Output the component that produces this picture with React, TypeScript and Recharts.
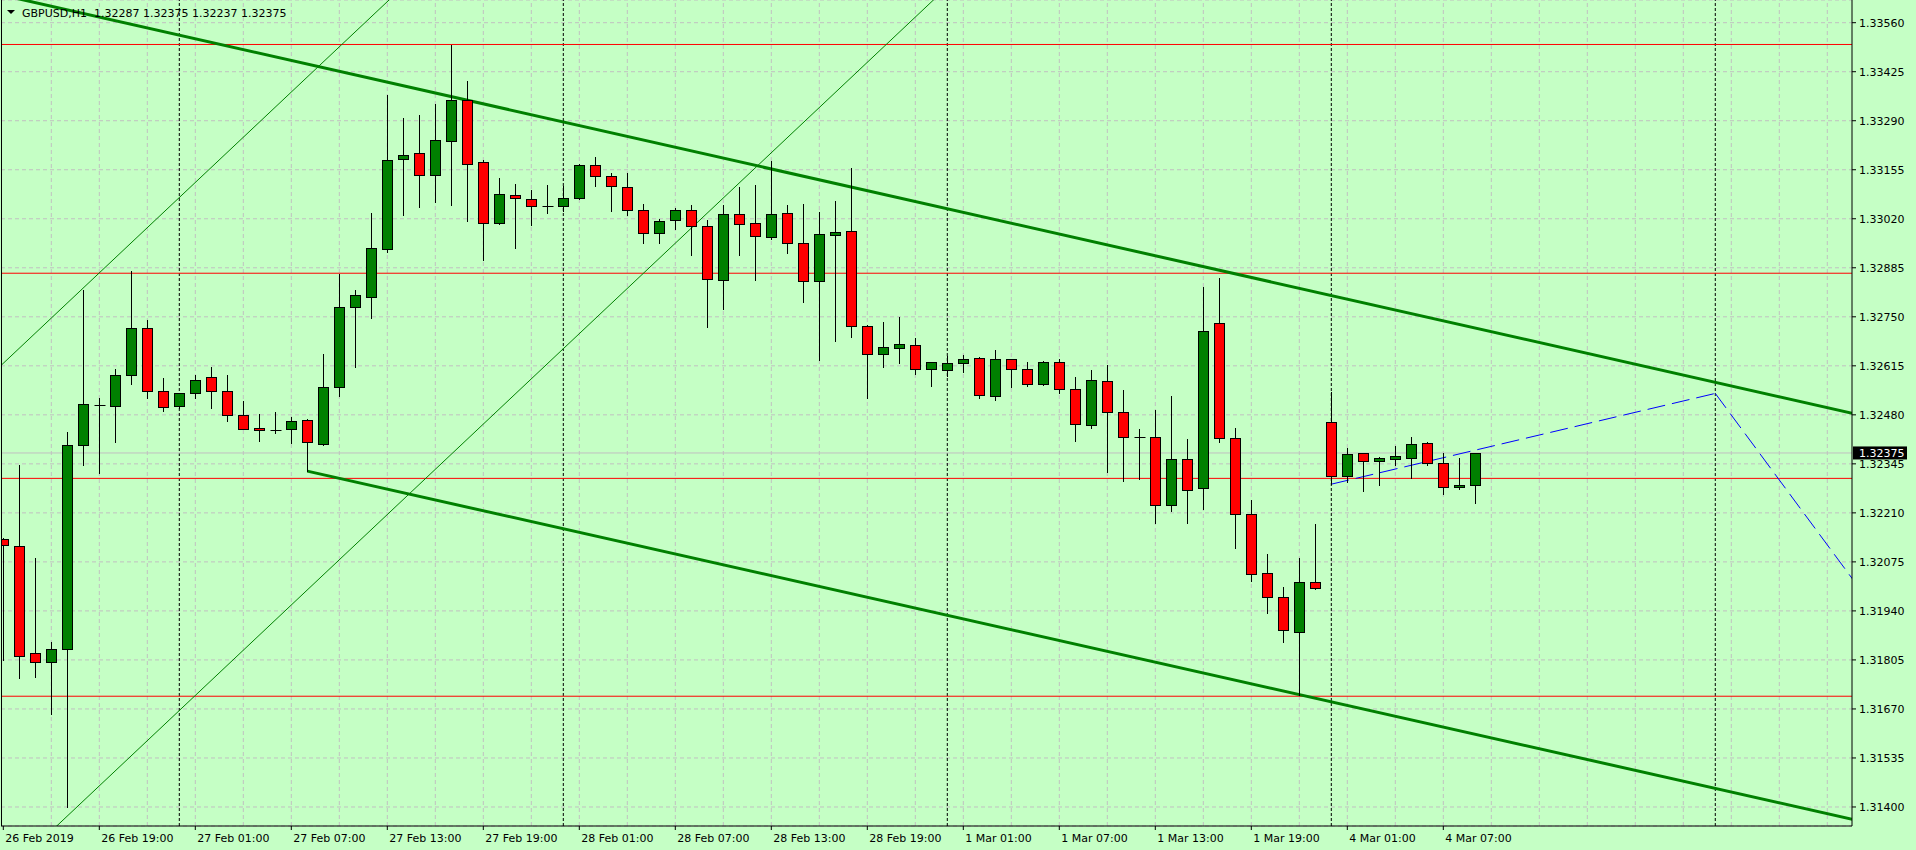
import React from 'react';
import { ComposedChart, Bar, XAxis, YAxis, CartesianGrid, ReferenceLine } from 'recharts';

const FONT = '"DejaVu Sans", Tahoma, sans-serif';
const BG = '#C5FFC5';

// ---- candle data (GBPUSD H1, 26 Feb 2019 13:00 .. 4 Mar 2019 09:00) ----
const opens = [
  1.32138, 1.3212, 1.31824, 1.31798, 1.31834, 1.32397, 1.32506, 1.32503, 1.32591, 1.32718,
  1.32547, 1.32503, 1.32539, 1.32583, 1.32547, 1.32479, 1.32443, 1.32439, 1.3244, 1.32465,
  1.32401, 1.32556, 1.32776, 1.32805, 1.32938, 1.33184, 1.332, 1.33141, 1.33235, 1.33346,
  1.33176, 1.33009, 1.33085, 1.33074, 1.33054, 1.33054, 1.33076, 1.33167, 1.33137, 1.33107,
  1.33043, 1.3298, 1.33016, 1.33043, 1.32999, 1.32852, 1.33032, 1.33008, 1.32969, 1.33035,
  1.32952, 1.32848, 1.32976, 1.32985, 1.32724, 1.32647, 1.32663, 1.32672, 1.32605, 1.32603,
  1.32622, 1.32636, 1.32531, 1.32633, 1.32605, 1.32564, 1.32625, 1.3255, 1.32451, 1.32572,
  1.32487, 1.3242, 1.32418, 1.32231, 1.32358, 1.32278, 1.32732, 1.32415, 1.32206, 1.32044,
  1.31978, 1.31881, 1.32019, 1.32459, 1.32312, 1.32374, 1.32352, 1.32359, 1.32362, 1.32402,
  1.32347, 1.3228, 1.32287,
];
const highs = [
  1.3214, 1.32341, 1.32086, 1.31854, 1.32434, 1.32824, 1.32525, 1.32605, 1.32876, 1.32741,
  1.32581, 1.3254, 1.32591, 1.32613, 1.32591, 1.32517, 1.32481, 1.32489, 1.32475, 1.32468,
  1.32647, 1.32869, 1.32824, 1.33035, 1.33361, 1.33297, 1.33306, 1.33336, 1.33499, 1.33399,
  1.33182, 1.33132, 1.33116, 1.33099, 1.33113, 1.3311, 1.3317, 1.3319, 1.33146, 1.33147,
  1.3306, 1.33019, 1.3305, 1.33057, 1.33017, 1.33058, 1.33108, 1.33113, 1.33179, 1.33057,
  1.33061, 1.33039, 1.33069, 1.33159, 1.32727, 1.32736, 1.32749, 1.32692, 1.32625, 1.32641,
  1.32644, 1.32638, 1.32658, 1.32635, 1.32625, 1.32628, 1.32633, 1.32584, 1.32603, 1.32616,
  1.32548, 1.3244, 1.32493, 1.32532, 1.32413, 1.32832, 1.32856, 1.32443, 1.32245, 1.32097,
  1.32005, 1.32085, 1.32179, 1.32542, 1.32389, 1.32376, 1.32363, 1.32394, 1.32418, 1.32404,
  1.32376, 1.32361, 1.32375,
];
const lows = [
  1.31805, 1.31754, 1.31759, 1.31657, 1.314, 1.32341, 1.32321, 1.32404, 1.32565, 1.32525,
  1.32491, 1.32499, 1.32527, 1.325, 1.32462, 1.32441, 1.32407, 1.32431, 1.32402, 1.32325,
  1.32397, 1.32531, 1.32613, 1.32747, 1.32929, 1.3303, 1.33053, 1.33066, 1.33058, 1.33015,
  1.32907, 1.33005, 1.3294, 1.33003, 1.33037, 1.33042, 1.33074, 1.3311, 1.33042, 1.33031,
  1.32954, 1.32954, 1.32993, 1.32921, 1.32723, 1.32772, 1.32921, 1.32851, 1.32963, 1.32927,
  1.32792, 1.32631, 1.32684, 1.32695, 1.32526, 1.32613, 1.32624, 1.32593, 1.3256, 1.32587,
  1.32599, 1.32527, 1.3252, 1.32556, 1.3256, 1.32562, 1.32541, 1.32409, 1.32443, 1.32323,
  1.32299, 1.32303, 1.32183, 1.32214, 1.32183, 1.32222, 1.32404, 1.32112, 1.32023, 1.31933,
  1.31855, 1.31708, 1.32, 1.32289, 1.32296, 1.32271, 1.32288, 1.32342, 1.32305, 1.32341,
  1.32262, 1.32277, 1.32237,
];
const closes = [
  1.32122, 1.31815, 1.31798, 1.31834, 1.32396, 1.32509, 1.32506, 1.32591, 1.32718, 1.32547,
  1.32501, 1.32539, 1.32577, 1.32547, 1.32479, 1.32441, 1.32437, 1.32439, 1.32462, 1.32404,
  1.32556, 1.32776, 1.32809, 1.32939, 1.33181, 1.33195, 1.33141, 1.33236, 1.33346, 1.33172,
  1.33009, 1.33087, 1.33076, 1.33054, 1.33054, 1.33076, 1.33167, 1.33137, 1.33109, 1.33043,
  1.3298, 1.33013, 1.33043, 1.32999, 1.32855, 1.33032, 1.33006, 1.32972, 1.33032, 1.32954,
  1.32848, 1.32977, 1.32983, 1.32726, 1.32647, 1.32666, 1.32674, 1.32605, 1.32625, 1.32622,
  1.32633, 1.32534, 1.32633, 1.32605, 1.32564, 1.32625, 1.3255, 1.32454, 1.32575, 1.32487,
  1.32418, 1.3242, 1.32231, 1.32358, 1.32272, 1.3271, 1.32415, 1.32206, 1.32041, 1.31978,
  1.31887, 1.32019, 1.32002, 1.32312, 1.32371, 1.32352, 1.3236, 1.32366, 1.32399, 1.32347,
  1.3228, 1.32287, 1.32375,
];

// ---- axes ----
const priceTicks = [
  1.314, 1.31535, 1.3167, 1.31805, 1.3194, 1.32075, 1.3221, 1.32345, 1.3248,
  1.32615, 1.3275, 1.32885, 1.3302, 1.33155, 1.3329, 1.33425, 1.3356,
];
const timeTickIdx = [0, 6, 12, 18, 24, 30, 36, 42, 48, 54, 60, 66, 72, 78, 84, 90];
const timeTickLabels = [
  '26 Feb 2019', '26 Feb 19:00', '27 Feb 01:00', '27 Feb 07:00', '27 Feb 13:00', '27 Feb 19:00',
  '28 Feb 01:00', '28 Feb 07:00', '28 Feb 13:00', '28 Feb 19:00', '1 Mar 01:00', '1 Mar 07:00',
  '1 Mar 13:00', '1 Mar 19:00', '4 Mar 01:00', '4 Mar 07:00',
];
const gridIdx = [
  3, 6, 9, 12, 15, 18, 21, 24, 27, 30, 33, 36, 39, 42, 45, 48, 51, 54, 57, 60, 63, 66, 69, 72,
  75, 78, 81, 84, 87, 90, 93, 96, 99, 102, 105, 108, 111, 114,
];
const separatorIdx = [11, 35, 59, 83, 107];
const X_DOMAIN: [number, number] = [-0.144, 115.544];
const Y_DOMAIN: [number, number] = [1.313476, 1.336225];

// ---- objects ----
const levels = [1.335, 1.3287, 1.32305, 1.31705];
const bidPrice = 1.32375;
const channelUpper = [{ x: -5, y: 1.33685 }, { x: 118, y: 1.3246 }];
const channelLower = [{ x: 19, y: 1.32325 }, { x: 118, y: 1.31342 }];
const thinLine1 = [{ x: -2, y: 1.32539 }, { x: 26, y: 1.33701 }];
const thinLine2 = [{ x: 0, y: 1.31209 }, { x: 60, y: 1.337 }];
const forecastUp = [{ x: 83, y: 1.32289 }, { x: 107, y: 1.32539 }];
const forecastDown = [{ x: 107, y: 1.32539 }, { x: 117, y: 1.31943 }];
const headerSymbol = 'GBPUSD,H1';
const headerOHLC = '1.32287 1.32375 1.32237 1.32375';

const bars = opens.map((o, i) => ({
  i,
  o,
  h: highs[i],
  l: lows[i],
  c: closes[i],
  range: [lows[i], highs[i]],
}));

const Candle = (props: any) => {
  const { x, y, width, height, payload } = props;
  if (x == null || y == null || !payload) return null;
  const { o, h, l, c } = payload;
  const top = Math.min(y, y + height);
  const bot = Math.max(y, y + height);
  const span = h - l;
  const toY = (v: number) => (span > 0 ? top + ((h - v) / span) * (bot - top) : top);
  const cx = Math.floor(x + width / 2) + 0.5;
  const yH = Math.round(toY(h));
  const yL = Math.round(toY(l));
  const bTop = Math.round(Math.min(toY(o), toY(c))) + 0.5;
  const bBot = Math.round(Math.max(toY(o), toY(c))) + 0.5;
  const up = c >= o;
  return (
    <g>
      <line x1={cx} x2={cx} y1={yH} y2={yL + 1} stroke="#000" strokeWidth={1} />
      {bBot - bTop < 1 ? (
        <line x1={cx - 5} x2={cx + 6} y1={bTop} y2={bTop} stroke="#000" strokeWidth={1} />
      ) : (
        <rect
          x={cx - 5}
          y={bTop}
          width={10}
          height={bBot - bTop}
          fill={up ? '#008000' : '#FF0000'}
          stroke="#000"
          strokeWidth={1}
        />
      )}
    </g>
  );
};

const TimeTick = (props: any) => {
  const { x, y, payload } = props;
  const k = timeTickIdx.indexOf(payload.value);
  return (
    <text x={x + 2} y={y + 10} textAnchor="start" fontFamily={FONT} fontSize={11} fill="#000">
      {k >= 0 ? timeTickLabels[k] : ''}
    </text>
  );
};

const PriceTag = (props: any) => {
  const vb = props.viewBox || {};
  if (vb.x == null) return null;
  const right = vb.x + vb.width;
  const cy = vb.y;
  return (
    <g>
      <rect x={right + 1} y={cy - 6.5} width={54} height={13} fill="#000" />
      <text x={right + 7} y={cy} dy="0.36em" fontFamily={FONT} fontSize={11} fill="#fff">
        {bidPrice.toFixed(5)}
      </text>
    </g>
  );
};

export default function App() {
  return (
    <div style={{ position: 'absolute', left: 0, top: 0, width: 1916, height: 850, background: BG, overflow: 'hidden' }}>
      <ComposedChart
        width={1916}
        height={850}
        data={bars}
        margin={{ top: 0, right: 0, bottom: 0, left: 1 }}
      >
        <CartesianGrid vertical={false} stroke="#C0C0C0" strokeDasharray="4 3" />
        <XAxis
          dataKey="i"
          type="number"
          domain={X_DOMAIN}
          allowDataOverflow
          ticks={timeTickIdx}
          interval={0}
          height={24}
          axisLine={{ stroke: '#000', strokeWidth: 1 }}
          tickLine={{ stroke: '#000' }}
          tickSize={4}
          tickMargin={2}
          tick={<TimeTick />}
        />
        <YAxis
          orientation="right"
          type="number"
          domain={Y_DOMAIN}
          allowDataOverflow
          ticks={priceTicks}
          interval={0}
          width={64}
          axisLine={{ stroke: '#000', strokeWidth: 1 }}
          tickLine={{ stroke: '#000' }}
          tickSize={4}
          tickMargin={3}
          tick={{ fill: '#000', fontSize: 11, fontFamily: FONT }}
          tickFormatter={(v: number) => v.toFixed(5)}
        />
        {gridIdx.map((g) => (
          <ReferenceLine key={'g' + g} x={g} stroke="#C0C0C0" strokeDasharray="4 3" zIndex={-90} />
        ))}
        {separatorIdx.map((s) => (
          <ReferenceLine key={'s' + s} x={s} stroke="#000" strokeDasharray="3 2" zIndex={50} />
        ))}
        <ReferenceLine y={bidPrice} stroke="#C0C0C0" zIndex={50} />
        {levels.map((lv) => (
          <ReferenceLine key={'l' + lv} y={lv} stroke="#FF0000" zIndex={50} />
        ))}
        <ReferenceLine segment={thinLine1} stroke="#008000" strokeWidth={1} ifOverflow="hidden" zIndex={50} />
        <ReferenceLine segment={thinLine2} stroke="#008000" strokeWidth={1} ifOverflow="hidden" zIndex={50} />
        <ReferenceLine segment={channelUpper} stroke="#008000" strokeWidth={3} ifOverflow="hidden" zIndex={50} />
        <ReferenceLine segment={channelLower} stroke="#008000" strokeWidth={3} ifOverflow="hidden" zIndex={50} />
        <ReferenceLine segment={forecastUp} stroke="#0000FF" strokeWidth={1} strokeDasharray="18 7" ifOverflow="hidden" zIndex={50} />
        <ReferenceLine segment={forecastDown} stroke="#0000FF" strokeWidth={1} strokeDasharray="18 7" ifOverflow="hidden" zIndex={50} />
        <Bar dataKey="range" barSize={10} shape={<Candle />} isAnimationActive={false} />
        <ReferenceLine y={bidPrice} stroke="none" label={(p: any) => <PriceTag {...p} />} zIndex={2500} />
      </ComposedChart>
      <div style={{ position: 'absolute', left: 1, top: 0, width: 1, height: 826, background: '#000' }} />
      <svg
        width={400}
        height={24}
        style={{ position: 'absolute', left: 0, top: 0, pointerEvents: 'none' }}
      >
        <polygon points="7,10 15,10 11,14" fill="#000" />
        <text x={22} y={16.5} fontFamily={FONT} fontSize={11} fill="#000">
          {headerSymbol}
        </text>
        <text x={94} y={16.5} fontFamily={FONT} fontSize={11} fill="#000" style={{ whiteSpace: 'pre' }}>
          {headerOHLC}
        </text>
      </svg>
    </div>
  );
}
